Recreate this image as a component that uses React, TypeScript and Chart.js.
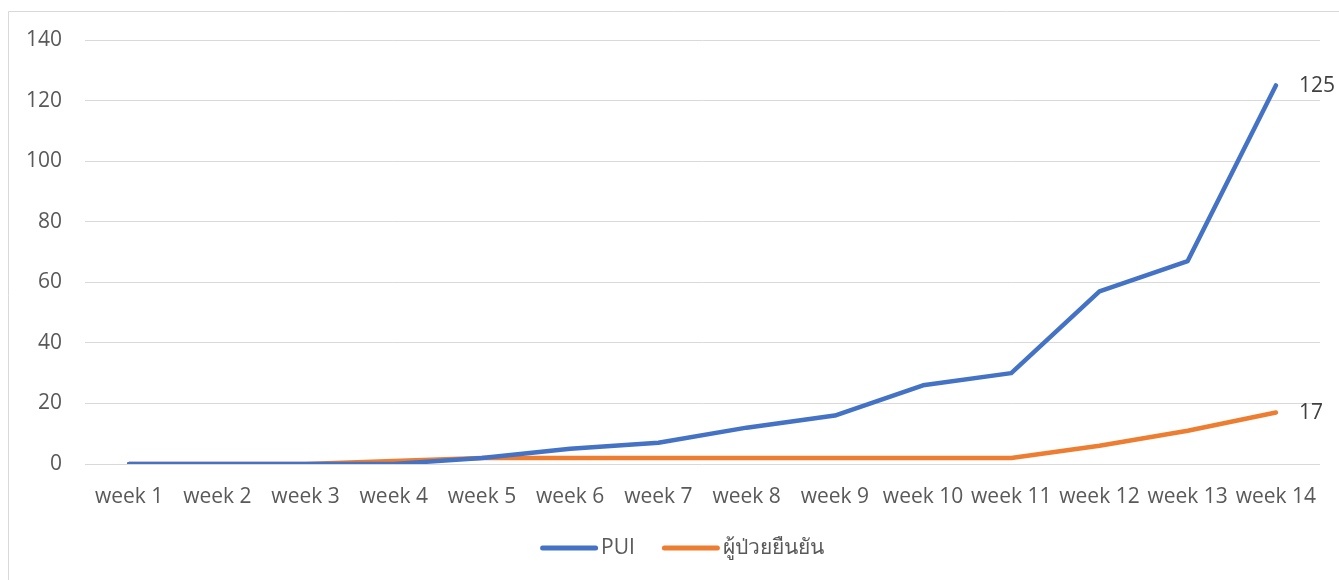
import React, { useEffect, useRef } from "react";
import { Chart, registerables } from "chart.js";
Chart.register(...registerables);

const categories = ["week 1","week 2","week 3","week 4","week 5","week 6","week 7","week 8","week 9","week 10","week 11","week 12","week 13","week 14"];
const puiValues = [0,0,0,0,2,5,7,12,16,26,30,57,67,125];
const confirmedValues = [0,0,0,1,2,2,2,2,2,2,2,6,11,17];
const seriesNames = ["PUI","ผู้ป่วยยืนยัน"];
const yTicks = [0,20,40,60,80,100,120,140];

const FONT = "'Open Sans', 'Noto Sans', sans-serif";
const FS = 21;
const W = 1339;
const H = 580;

const frameAndLabelsPlugin = {
  id: "frameAndLabels",
  beforeDraw(chart: any) {
    const ctx = chart.ctx;
    ctx.save();
    ctx.fillStyle = "#ffffff";
    ctx.fillRect(0, 0, chart.width, chart.height);
    ctx.strokeStyle = "#d9d9d9";
    ctx.lineWidth = 1;
    ctx.beginPath();
    ctx.moveTo(8.5, chart.height);
    ctx.lineTo(8.5, 11.5);
    ctx.lineTo(chart.width, 11.5);
    ctx.stroke();
    ctx.restore();
  },
  afterDatasetsDraw(chart: any) {
    const ctx = chart.ctx;
    ctx.save();
    ctx.font = `${FS}px ${FONT}`;
    ctx.fillStyle = "#404040";
    ctx.textBaseline = "middle";
    ctx.textAlign = "left";
    chart.data.datasets.forEach((ds: any, i: number) => {
      const meta = chart.getDatasetMeta(i);
      const pt = meta.data[meta.data.length - 1];
      const v = ds.data[ds.data.length - 1];
      ctx.fillText(String(v), pt.x + 23, pt.y + 1);
    });
    ctx.restore();
  },
  afterDraw(chart: any) {
    const ctx = chart.ctx;
    ctx.save();
    ctx.font = `${FS}px ${FONT}`;
    const sw = 58, gap = 3, itemGap = 27;
    const items = chart.data.datasets.map((ds: any) => ({ text: ds.label, color: ds.borderColor, w: ctx.measureText(ds.label).width }));
    const total = items.reduce((s: number, it: any) => s + sw + gap + it.w, 0) + itemGap * (items.length - 1);
    let x = 682 - total / 2;
    const y = 548;
    items.forEach((it: any) => {
      ctx.strokeStyle = it.color;
      ctx.lineWidth = 5;
      ctx.lineCap = "round";
      ctx.beginPath();
      ctx.moveTo(x + 2.5, y);
      ctx.lineTo(x + sw - 2.5, y);
      ctx.stroke();
      ctx.fillStyle = "#595959";
      ctx.textBaseline = "middle";
      ctx.textAlign = "left";
      ctx.fillText(it.text, x + sw + gap, y);
      x += sw + gap + it.w + itemGap;
    });
    ctx.restore();
  },
};

export default function App() {
  const ref = useRef<HTMLCanvasElement>(null);
  useEffect(() => {
    document.documentElement.style.overflow = "hidden";
    document.body.style.overflow = "hidden";
    if (!ref.current) return;
    const chart = new Chart(ref.current, {
      type: "line",
      data: {
        labels: categories,
        datasets: [
          { label: seriesNames[0], data: puiValues, borderColor: "#4472C4", backgroundColor: "#4472C4", borderWidth: 4.5, pointRadius: 0, borderCapStyle: "round", borderJoinStyle: "round", tension: 0 },
          { label: seriesNames[1], data: confirmedValues, borderColor: "#ED7D31", backgroundColor: "#ED7D31", borderWidth: 4.5, pointRadius: 0, borderCapStyle: "round", borderJoinStyle: "round", tension: 0 },
        ],
      },
      plugins: [frameAndLabelsPlugin],
      options: {
        animation: false,
        responsive: false,
        layout: { padding: { left: 8, right: 19, top: 40, bottom: 58 } },
        plugins: {
          tooltip: { enabled: false },
          legend: { display: false },
        },
        scales: {
          x: {
            offset: true,
            grid: { display: false },
            border: { display: false },
            afterFit(axis: any) { axis.height = 58; },
            ticks: { font: { size: FS, family: FONT }, color: "#595959", padding: 12, maxRotation: 0, autoSkip: false },
          },
          y: {
            min: 0,
            max: 140,
            afterBuildTicks(axis: any) { axis.ticks = yTicks.map((v) => ({ value: v })); },
            afterFit(axis: any) { axis.width = 77; },
            grid: { color: "#d9d9d9", lineWidth: 1, drawTicks: false },
            border: { display: false },
            ticks: { font: { size: FS, family: FONT }, color: "#595959", padding: 23 },
          },
        },
      },
    } as any);
    return () => chart.destroy();
  }, []);
  return (
    <canvas
      ref={ref}
      width={W}
      height={H}
      style={{ position: "fixed", left: 0, top: 0, display: "block", background: "#fff" }}
    />
  );
}
